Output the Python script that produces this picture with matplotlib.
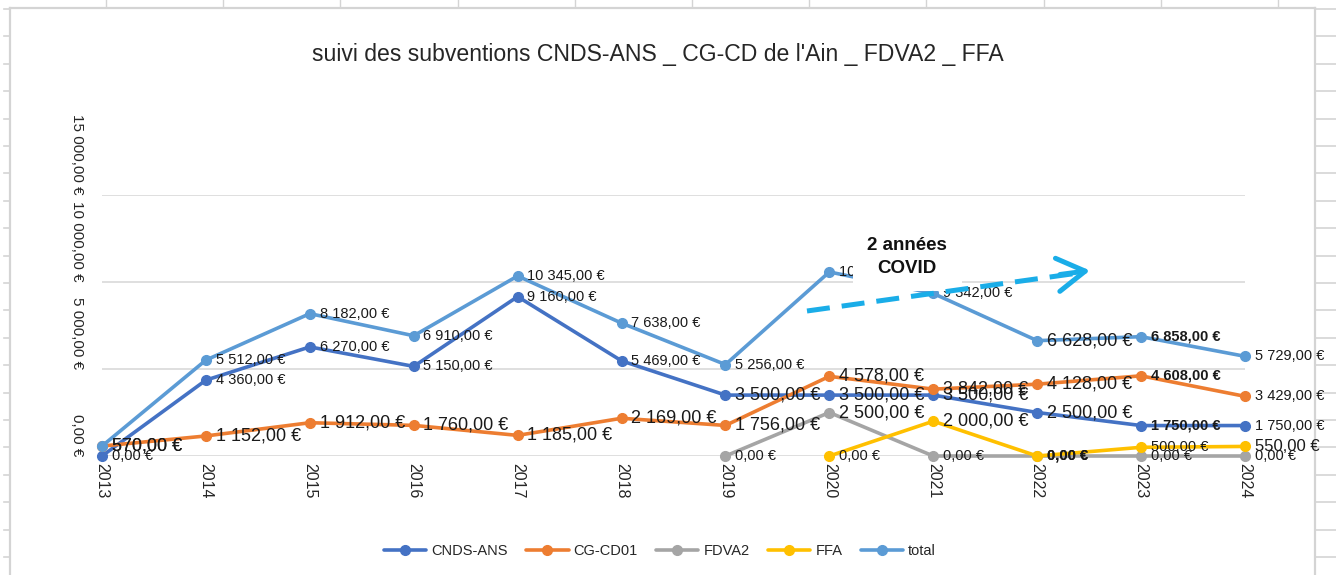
import numpy as np
import matplotlib
matplotlib.use("Agg")
import matplotlib.pyplot as plt
from matplotlib.lines import Line2D
from matplotlib.patches import Rectangle, FancyArrowPatch

# ---------------- data ----------------
years = [2013, 2014, 2015, 2016, 2017, 2018, 2019, 2020, 2021, 2022, 2023, 2024]
cnds_ans = [0, 4360, 6270, 5150, 9160, 5469, 3500, 3500, 3500, 2500, 1750, 1750]
cg_cd01 = [570, 1152, 1912, 1760, 1185, 2169, 1756, 4578, 3842, 4128, 4608, 3429]
fdva2 = [np.nan] * 6 + [0, 2500, 0, 0, 0, 0]
ffa = [np.nan] * 7 + [0, 2000, 0, 500, 550]
total = [570, 5512, 8182, 6910, 10345, 7638, 5256, 10578, 9342, 6628, 6858, 5729]

series_names = ["CNDS-ANS", "CG-CD01", "FDVA2", "FFA", "total"]
series_values = [cnds_ans, cg_cd01, fdva2, ffa, total]
series_colors = ["#4472C4", "#ED7D31", "#A5A5A5", "#FFC000", "#5B9BD5"]

# label styles (S = small, L = large, B = small bold, M = medium)
label_styles = [
    ["S", "S", "S", "S", "S", "S", "L", "L", "L", "L", "B", "S"],
    ["L", "L", "L", "L", "L", "L", "L", "L", "L", "L", "B", "S"],
    ["S"] * 6 + ["S", "L", "S", "B", "S", "S"],
    ["S"] * 7 + ["S", "L", "B", "S", "M"],
    ["L", "S", "S", "S", "S", "S", "S", "S", "S", "L", "B", "S"],
]

yticks = [0, 5000, 10000, 15000]
title = "suivi des subventions CNDS-ANS _ CG-CD de l'Ain _ FDVA2 _ FFA"
covid_text = "2 années\nCOVID"

W, H = 1336, 575
FONT = "Liberation Sans"


def fx(x):
    return x / W


def fy(y):
    return 1 - y / H


def eur(v):
    s = f"{v:,.2f}".replace(",", " ").replace(".", ",")
    return s + " €"


fig = plt.figure(figsize=(W / 100, H / 100), dpi=100)
fig.patch.set_facecolor("white")

# ---- spreadsheet background decorations ----
deco = "#D4D4D4"
def deco_line(xs, ys, lw):
    fig.add_artist(Line2D([fx(v) for v in xs], [fy(v) for v in ys], color=deco, lw=lw,
                          transform=fig.transFigure, zorder=-5))

deco_line([10, 10], [8, 575], 1.6)
deco_line([10, 1315], [8, 8], 1.6)
deco_line([1315, 1315], [8, 575], 1.6)
for yy in np.arange(9, 575, 27.4):
    deco_line([4, 10], [yy, yy], 1.2)
    deco_line([1315, 1336], [yy, yy], 1.2)
for xx in np.arange(106, 1290, 117.2):
    deco_line([xx, xx], [0, 7], 1.0)

# ---- axes ----
ax = fig.add_axes([fx(102), fy(456), fx(1245) - fx(102), fy(195) - fy(456)])
ax.patch.set_visible(False)
ax.set_xlim(years[0], years[-1])
ax.set_ylim(0, 15000)
for sp in ax.spines.values():
    sp.set_visible(False)
ax.set_yticks(yticks)
ax.set_yticklabels([eur(v) for v in yticks], rotation=-90, fontsize=11, family=FONT)
for lab in ax.get_yticklabels():
    lab.set_va("bottom")
    lab.set_ha("right")
ax.set_xticks(years)
ax.set_xticklabels([str(y) for y in years], rotation=-90, fontsize=11.5, family=FONT)
ax.tick_params(axis="y", length=0, pad=13, labelcolor="#262626")
ax.tick_params(axis="x", length=0, pad=5, labelcolor="#262626")
ax.yaxis.grid(True, color="#D9D9D9", lw=1.2)
ax.set_axisbelow(True)

handles = []
for name, vals, col in zip(series_names, series_values, series_colors):
    ln, = ax.plot(years, vals, color=col, lw=2.6, marker="o", markersize=7,
                  clip_on=False, label=name, solid_capstyle="round")
    handles.append(ln)

sizes = {"L": (13, "normal"), "M": (12, "normal"), "B": (10.5, "bold"), "S": (10.5, "normal")}
for vals, styles in zip(series_values, label_styles):
    for x, v, st in zip(years, vals, styles):
        if np.isnan(v):
            continue
        fs, fw = sizes[st]
        ax.annotate(eur(v), (x, v), xytext=(7, 0), textcoords="offset points",
                    ha="left", va="center", color="#1a1a1a", annotation_clip=False,
                    zorder=10, family=FONT, fontsize=fs, fontweight=fw)

# ---- title ----
fig.text(fx(658), fy(55), title, ha="center", va="center", fontsize=16.6,
         family=FONT, color="#262626")

# ---- COVID annotation ----
fig.add_artist(Rectangle((fx(853), fy(291)), fx(962) - fx(853), fy(226) - fy(291),
                         facecolor="white", edgecolor="none", transform=fig.transFigure, zorder=20))
fig.text(fx(907), fy(257), covid_text, ha="center", va="center", fontsize=13.5,
         fontweight="bold", family=FONT, linespacing=1.45, zorder=21, color="#111111")

arrow_col = "#1AADE8"
fig.add_artist(Line2D([fx(807), fx(1080)], [fy(311), fy(272.8)], color=arrow_col, lw=3.6,
                      dashes=(4.6, 2.4), solid_capstyle="butt", dash_capstyle="butt",
                      transform=fig.transFigure, zorder=22))
fig.add_artist(FancyArrowPatch((fx(1060), fy(274.5)), (fx(1090), fy(270.5)),
                               arrowstyle="->,head_length=1.0,head_width=0.6", mutation_scale=20,
                               color=arrow_col, lw=3.6, transform=fig.transFigure, zorder=22,
                               shrinkA=0, shrinkB=0))

# ---- legend ----
fig.legend(handles=handles, labels=series_names, loc="center",
           bbox_to_anchor=(fx(660), fy(551)), ncol=5, frameon=False,
           prop={"family": FONT, "size": 10.5},
           handlelength=2.9, handletextpad=0.35, columnspacing=1.25,
           labelcolor="#262626")

fig.savefig("out.png", dpi=100, facecolor="white")
